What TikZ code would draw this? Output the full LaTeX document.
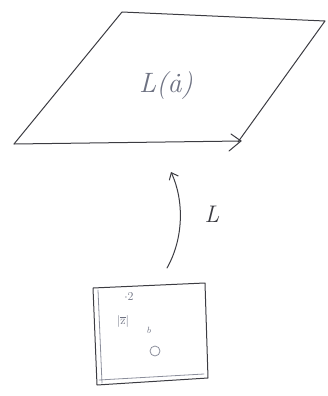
\documentclass[tikz,border=0pt]{standalone}
\usetikzlibrary{arrows.meta}
\definecolor{ink}{RGB}{60,60,66}
\definecolor{pencil}{RGB}{110,114,130}
\tikzset{
  stroke/.style={draw=ink, line width=1pt, line cap=round, line join=round},
  faint/.style={draw=pencil!80, line width=0.8pt, line cap=round},
  handtext/.style={text=pencil, font=\itshape},
}
\begin{document}
\begin{tikzpicture}[x=1pt,y=-1pt]
\useasboundingbox (0,0) rectangle (327,396);

% the plane
\coordinate (p1) at (122,12);
\coordinate (p2) at (325,21);
\coordinate (p3) at (238,142);
\coordinate (p4) at (14,144);
\draw[stroke] (p4) -- (p1) -- (p2) -- (p3);
\draw[stroke] (p4) -- (241,141);
\draw[stroke] (231,134) -- (241,141) -- (229,151);
\node[handtext, font=\fontsize{28}{30}\selectfont\itshape] (space) at (166,86) {L(\.{a})};

% the box
\coordinate (b1) at (93,288);
\coordinate (b2) at (205,283);
\coordinate (b3) at (208,378);
\coordinate (b4) at (97,385);
\draw[stroke] (b1) -- (b2) -- (b3) -- (b4) -- cycle;
\draw[faint] (98,290) -- (102,383);
\draw[faint] (99,380) -- (204,374);
\node[handtext, font=\large] (two) at (129,297) {$\cdot 2$};
\node[handtext, font=\large] (brk) at (123,321) {$|\overline{\mathrm{z}}|$};
\node[handtext, font=\small] (dot) at (149,330) {$b$};
\node[faint, circle, inner sep=0pt, minimum size=10pt] (ring) at (155,351) {};

% the map L
\coordinate (tail) at (167,268);
\coordinate (head) at (171,172);
\draw[stroke, -{Straight Barb[length=6pt,width=10pt]}] (tail) .. controls (184,238) and (184,200) .. (head);
\node[text=ink, font=\fontsize{24}{26}\selectfont\itshape] (lbl) at (212,214) {L};
\end{tikzpicture}
\end{document}
